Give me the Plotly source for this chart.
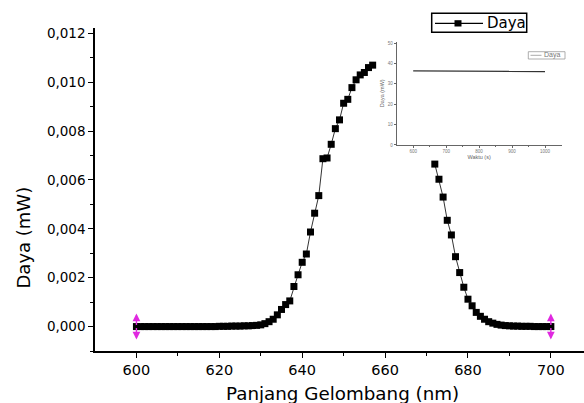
import plotly.graph_objects as go

# ---------------- data ----------------
# Main spectrum: wavelength (nm) vs power (mW). The part between 658 and 671 nm
# is hidden behind the inset in the reference and is therefore not drawn.
wl_rise = [600, 601, 602, 603, 604, 605, 606, 607, 608, 609,
           610, 611, 612, 613, 614, 615, 616, 617, 618, 619,
           620, 621, 622, 623, 624, 625, 626, 627, 628, 629,
           630, 631, 632, 633, 634, 635, 636, 637, 638, 639,
           640, 641, 642, 643, 644, 645, 646, 647, 648, 649,
           650, 651, 652, 653, 654, 655, 656, 657]
daya_rise = [0.0, 0.0, 0.0, 0.0, 0.0, 0.0, 0.0, 0.0, 0.0, 0.0,
             0.0, 0.0, 0.0, 0.0, 0.0, 0.0, 0.0, 0.0, 0.0, 0.0,
             0.00001, 0.00001, 0.00001, 0.00002, 0.00002, 0.00002, 0.00003, 0.00003, 0.00004, 0.00005,
             0.00007, 0.00012, 0.0002, 0.0003, 0.00048, 0.0007, 0.0009, 0.00105, 0.00164, 0.00212,
             0.00263, 0.00297, 0.00387, 0.00464, 0.00536, 0.00687, 0.0069, 0.00746, 0.0081, 0.00846,
             0.00914, 0.0093, 0.00978, 0.0101, 0.0103, 0.0104, 0.0106, 0.0107]
wl_fall = [672, 673, 674, 675, 676, 677, 678, 679, 680, 681,
           682, 683, 684, 685, 686, 687, 688, 689, 690, 691,
           692, 693, 694, 695, 696, 697, 698, 699, 700]
daya_fall = [0.00665, 0.00603, 0.0053, 0.00435, 0.00375, 0.00286, 0.00221, 0.00161, 0.00112, 0.00085,
             0.00058, 0.00042, 0.0003, 0.0002, 0.00014, 0.00009, 0.00006, 0.00004, 0.00003, 0.00002,
             0.00002, 0.00001, 0.00001, 0.00001, 0.0, 0.0, 0.0, 0.0, 0.0]

x_tick_vals = [600, 620, 640, 660, 680, 700]
x_tick_text = ["600", "620", "640", "660", "680", "700"]
x_minor_vals = [610, 630, 650, 670, 690]
y_tick_vals = [0.000, 0.002, 0.004, 0.006, 0.008, 0.010, 0.012]
y_tick_text = ["0,000", "0,002", "0,004", "0,006", "0,008", "0,010", "0,012"]
y_minor_vals = [-0.001, 0.001, 0.003, 0.005, 0.007, 0.009, 0.011]

# Inset: power vs time
waktu = [600, 700, 800, 900, 1000]
daya_waktu = [36.4, 36.3, 36.3, 36.2, 36.1]
inset_x_ticks = [600, 700, 800, 900, 1000]
inset_x_labels = ["600", "700", "800", "900", "1000"]
inset_x_minor = [650, 750, 850, 950]
inset_y_ticks = [0, 10, 20, 30, 40, 50]
inset_y_labels = ["0", "10", "20", "30", "40", "50"]

legend_label = "Daya"
x_title = "Panjang Gelombang (nm)"
y_title = "Daya (mW)"

# Data-range markers (magenta double arrows) at the first and last wavelength
range_marks_x = [wl_rise[0], wl_fall[-1]]
range_marks_y = [daya_rise[0], daya_fall[-1]]

FONT = "DejaVu Sans"
FONT_SMALL = "Liberation Sans"
MAGENTA = "#E028E0"

# plot-area geometry in pixels (for placing the hand-drawn legends/titles)
W, H = 584, 403
ML, MR, MT, MB = 95, 0, 28, 52
PW, PH = W - ML - MR, H - MT - MB


def px(x):
    return (x - ML) / PW


def py(y):
    return (MT + PH - y) / PH


fig = go.Figure()

fig.add_trace(go.Scatter(
    x=wl_rise + [None] + wl_fall,
    y=daya_rise + [None] + daya_fall,
    mode="lines+markers",
    name=legend_label,
    line=dict(color="#333333", width=1),
    marker=dict(symbol="square", size=7, color="black"),
    connectgaps=False,
    showlegend=False,
    xaxis="x", yaxis="y",
))

fig.add_trace(go.Scatter(
    x=waktu, y=daya_waktu,
    mode="lines",
    name=legend_label,
    line=dict(color="#333333", width=1.3),
    showlegend=False,
    xaxis="x2", yaxis="y2",
))

annotations = []
for xv, yv in zip(range_marks_x, range_marks_y):
    for sgn in (1, -1):
        annotations.append(dict(
            x=xv, y=yv, xref="x", yref="y",
            yshift=13 * sgn, ax=0, ay=13 * sgn,
            axref="pixel", ayref="pixel",
            text="", showarrow=True,
            arrowhead=2, arrowsize=1.1, arrowwidth=1.4,
            arrowcolor=MAGENTA,
        ))

# y-axis title (placed lower than centre, as in the reference)
annotations.append(dict(
    x=px(22.5), y=py(238), xref="paper", yref="paper",
    text=y_title, textangle=-90, showarrow=False,
    font=dict(family=FONT, size=18, color="black"),
    xanchor="center", yanchor="middle",
))
# x-axis title
annotations.append(dict(
    x=px(342.5), y=py(393), xref="paper", yref="paper",
    text=x_title, showarrow=False,
    font=dict(family=FONT, size=18.3, color="black"),
    xanchor="center", yanchor="middle",
))
# main legend text
annotations.append(dict(
    x=px(485), y=py(23.3), xref="paper", yref="paper",
    text=legend_label, showarrow=False,
    font=dict(family=FONT, size=15, color="black"),
    xanchor="left", yanchor="middle",
))
# inset legend text
annotations.append(dict(
    x=px(542), y=py(55.3), xref="paper", yref="paper",
    text=legend_label, showarrow=False,
    font=dict(family=FONT_SMALL, size=7, color="#777777"),
    xanchor="left", yanchor="middle",
))

shapes = [
    # main legend
    dict(type="rect", xref="paper", yref="paper",
         x0=px(431.7), x1=px(526.7), y0=py(32.3), y1=py(13.3),
         line=dict(color="black", width=1.5), fillcolor="white"),
    dict(type="line", xref="paper", yref="paper",
         x0=px(435), x1=px(483), y0=py(23.3), y1=py(23.3),
         line=dict(color="black", width=1.2)),
    dict(type="rect", xref="paper", yref="paper",
         x0=px(454.5), x1=px(461.5), y0=py(26.5), y1=py(20.2),
         line=dict(color="black", width=0), fillcolor="black"),
    # inset legend
    dict(type="rect", xref="paper", yref="paper",
         x0=px(528.3), x1=px(565), y0=py(59), y1=py(51.7),
         line=dict(color="#999999", width=0.8), fillcolor="white"),
    dict(type="line", xref="paper", yref="paper",
         x0=px(530.5), x1=px(541.5), y0=py(55.3), y1=py(55.3),
         line=dict(color="#aaaaaa", width=1)),
]

fig.update_layout(
    width=W, height=H,
    margin=dict(l=ML, r=MR, t=MT, b=MB, autoexpand=False),
    paper_bgcolor="white", plot_bgcolor="white",
    font=dict(family=FONT, color="black"),
    showlegend=False,
    xaxis=dict(
        range=[590, 708], domain=[0, 1], anchor="y", automargin=False,
        tickmode="array", tickvals=x_tick_vals, ticktext=x_tick_text,
        ticks="outside", ticklen=5, tickwidth=1.3, tickcolor="black",
        minor=dict(tickmode="array", tickvals=x_minor_vals, ticks="outside",
                   ticklen=3, tickwidth=1.2, tickcolor="black"),
        showline=True, linecolor="black", linewidth=1.5,
        showgrid=False, zeroline=False,
        tickfont=dict(family=FONT, size=14.5, color="black"),
    ),
    yaxis=dict(
        range=[-0.001, 0.01222], domain=[0, 1], anchor="x", automargin=False,
        tickmode="array", tickvals=y_tick_vals, ticktext=y_tick_text,
        ticks="outside", ticklen=5, tickwidth=1.3, tickcolor="black",
        minor=dict(tickmode="array", tickvals=y_minor_vals, ticks="outside",
                   ticklen=3, tickwidth=1.2, tickcolor="black"),
        showline=True, linecolor="black", linewidth=1.5,
        showgrid=False, zeroline=False,
        tickfont=dict(family=FONT, size=13.5, color="black"),
    ),
    xaxis2=dict(
        range=[550, 1050], domain=[0.617, 0.954], anchor="y2", automargin=False,
        tickmode="array", tickvals=inset_x_ticks, ticktext=inset_x_labels,
        ticks="outside", ticklen=2, tickwidth=0.8, tickcolor="#666666",
        minor=dict(tickmode="array", tickvals=inset_x_minor, ticks="outside",
                   ticklen=1.5, tickwidth=0.8, tickcolor="#666666"),
        showline=True, linecolor="#666666", linewidth=0.9,
        showgrid=False, zeroline=False,
        tickfont=dict(family=FONT_SMALL, size=4.5, color="#777777"),
        title=dict(text="Waktu (s)", font=dict(family=FONT_SMALL, size=5.5, color="#666666"),
                   standoff=1),
    ),
    yaxis2=dict(
        range=[0, 50.8], domain=[0.638, 0.958], anchor="x2", automargin=False,
        tickmode="array", tickvals=inset_y_ticks, ticktext=inset_y_labels,
        ticks="outside", ticklen=2, tickwidth=0.8, tickcolor="#666666",
        showline=True, linecolor="#666666", linewidth=0.9,
        showgrid=False, zeroline=False,
        tickfont=dict(family=FONT_SMALL, size=4.5, color="#777777"),
        title=dict(text="Daya (mW)", font=dict(family=FONT_SMALL, size=5.5, color="#666666"),
                   standoff=2),
    ),
    annotations=annotations,
    shapes=shapes,
)

fig.write_html(
    "out.html",
    config={"displayModeBar": False},
    post_script="document.body.style.margin='0';document.body.style.padding='0';",
)
